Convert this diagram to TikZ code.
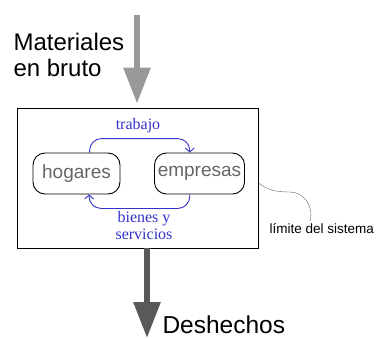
\documentclass[tikz,border=0pt]{standalone}
\usepackage{fontspec}
\setmainfont{Liberation Serif}
\setsansfont{Liberation Sans}
\usetikzlibrary{arrows.meta,arrows}
\definecolor{flowblue}{RGB}{51,51,204}
\definecolor{ingray}{gray}{0.6}
\definecolor{outgray}{gray}{0.35}
\tikzset{
  agent/.style={draw=black, line width=0.9pt, rounded corners=12pt, minimum width=87pt,
    minimum height=41pt, text=black!60, font=\sffamily\fontsize{19}{22}\selectfont},
  flow/.style={-{Straight Barb[length=4pt,width=9pt]}, line width=0.9pt, flowblue, rounded corners=12pt},
  flowlabel/.style={text=flowblue, align=center, font=\rmfamily\fontsize{16}{17}\selectfont},
  bigarrow/.style={line width=6pt, -{Triangle[width=26pt,length=36pt]}},
}

\begin{document}
\begin{tikzpicture}[x=1pt,y=-1pt]
\useasboundingbox (0,0) rectangle (378,338);

    \node[draw=black, line width=0.9pt, minimum width=241pt, minimum height=140pt] (sys) at (137.5,178) {};

    \node[agent] (hog) at (76.5,173.5) {hogares};
    \node[agent] (emp) at (199.5,173.5) {empresas};

    \node[flowlabel] (trab) at (138,126) {trabajo};
    \node[flowlabel] (bys) at (144,226) {bienes y\\servicios};

    % circular flow
    \draw[flow] (hog.58) -- ++(0,-14) -| (emp.115);
    \draw[flow] (emp.-115) -- ++(0,14) -| (hog.-59);

    % in and out
    \node[anchor=west, align=left, font=\sffamily\fontsize{24}{26}\selectfont] (mat) at (10,55) {Materiales\\en bruto};
    \coordinate (in) at (137,15);
    \draw[bigarrow, ingray] (in) -- ([yshift=4pt]sys.north -| in);

    \coordinate (out) at (147,338);
    \draw[bigarrow, outgray] (sys.south -| out) -- (out);
    \node[anchor=west, font=\sffamily\fontsize{24.5}{26}\selectfont] (des) at (159,325) {Deshechos};

    % system boundary
    \node[anchor=west, font=\sffamily\fontsize{13.5}{15}\selectfont] (lim) at (266,229) {límite del sistema};
    \coordinate (limtip) at (310,221);
    \draw[black!60] ([yshift=-5pt]sys.east) .. controls (268,190) and (275,192) .. (290,192)
      .. controls (305,192) and (314,208) .. (limtip);

\end{tikzpicture}
\end{document}
